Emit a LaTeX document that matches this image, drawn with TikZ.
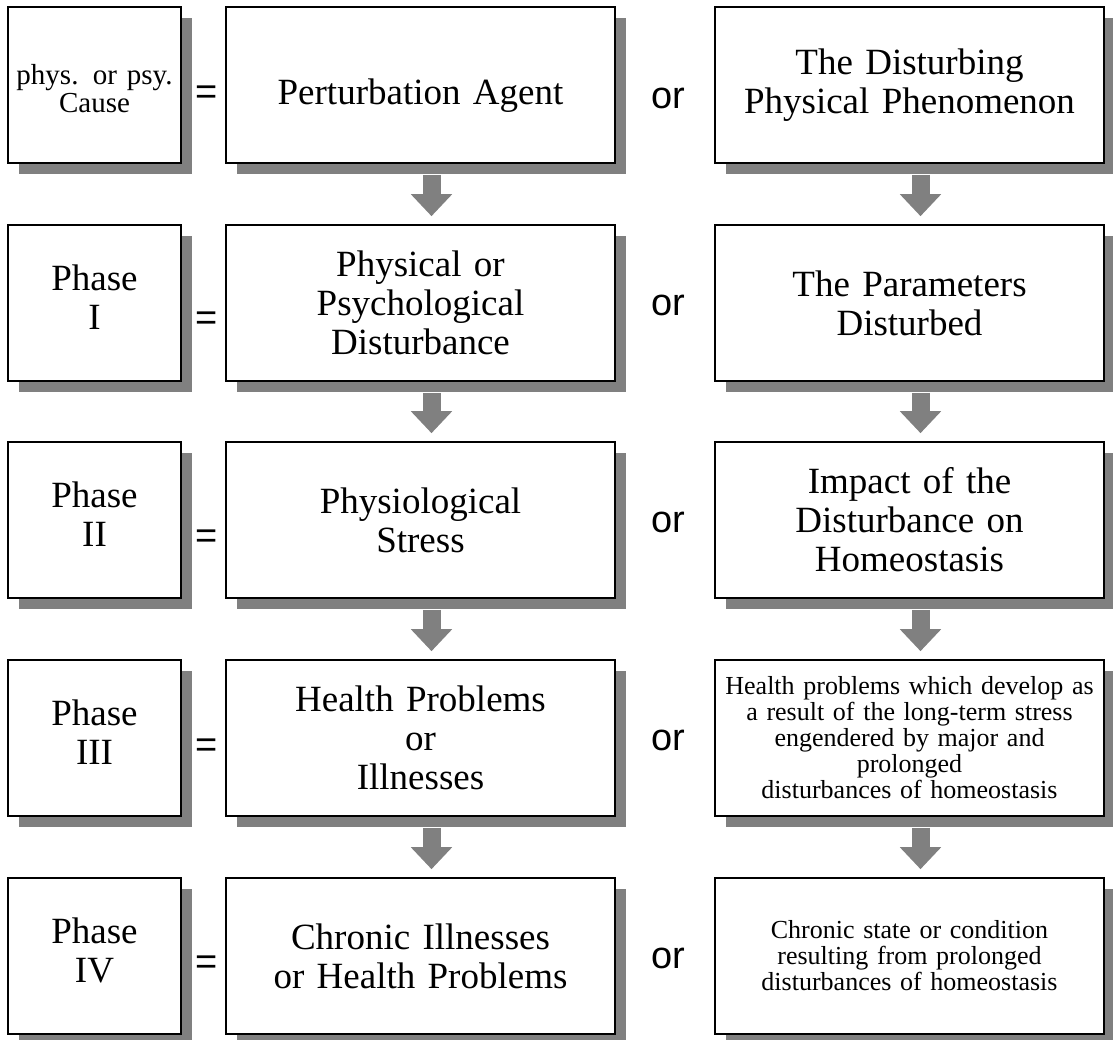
\documentclass[tikz,border=0pt]{standalone}
\usepackage{fontspec}
\setmainfont{Liberation Serif}
\newfontfamily\sansor{Liberation Sans}
\usetikzlibrary{shadows,arrows.meta}
\tikzset{
  box/.style={draw,line width=1.6pt,fill=white,inner sep=2pt,align=center,
    drop shadow={shadow xshift=11pt,shadow yshift=-11pt,fill=black!50,opacity=1},
    font=\fontsize{37}{39}\selectfont},
  phasebox/.style={box,minimum width=173pt,minimum height=156pt,text width=165pt},
  phaseup/.style={phasebox,execute at end node={\rule[-12pt]{0pt}{0pt}}},
  widebox/.style={box,minimum width=389pt,minimum height=156pt,text width=380pt},
  small/.style={font=\fontsize{26}{26}\selectfont},
  link/.style={line width=18pt,black!50,-{Triangle[width=40pt,length=22pt]}},
  sym/.style={font=\sansor\fontsize{38}{38}\selectfont,inner sep=0pt,anchor=base}
}
\begin{document}
\begin{tikzpicture}[x=1pt,y=-1pt]
  \useasboundingbox (0,0) rectangle (1113,1039);

  % left column
  \node[phasebox,font=\fontsize{29}{28}\selectfont] (ph0) at (94.5,85) {\rule{0pt}{27pt}phys. or psy.\\Cause};
  \node[phaseup] (ph1) at (94.5,303) {Phase\\I};
  \node[phaseup] (ph2) at (94.5,520) {Phase\\II};
  \node[phaseup] (ph3) at (94.5,738) {Phase\\III};
  \node[phaseup] (ph4) at (94.5,956) {Phase\\IV};

  % middle column
  \node[widebox] (ag0) at (420.5,85) {\rule{0pt}{46pt}Perturbation Agent};
  \node[widebox] (ag1) at (420.5,303) {Physical or\\Psychological\\Disturbance};
  \node[widebox] (ag2) at (420.5,520) {Physiological\\Stress};
  \node[widebox] (ag3) at (420.5,738) {Health Problems\\or\\Illnesses};
  \node[widebox] (ag4) at (420.5,956) {Chronic Illnesses\\or Health Problems};

  % right column
  \node[widebox] (ds0) at (909.5,85) {The Disturbing\\Physical Phenomenon};
  \node[widebox] (ds1) at (909.5,303) {The Parameters\\Disturbed};
  \node[widebox] (ds2) at (909.5,520) {Impact of the\\Disturbance on\\Homeostasis};
  \node[widebox,small] (ds3) at (909.5,738) {Health problems which develop as\\a result of the long-term stress\\engendered by major and\\prolonged\\disturbances of homeostasis};
  \node[widebox,small] (ds4) at (909.5,956) {Chronic state or condition\\resulting from prolonged\\disturbances of homeostasis};

  \foreach \i/\ye/\yo in {0/104/108,1/330/315,2/548/532,3/757/750,4/974/968} {
    \node[sym] (eq\i) at (207,\ye) {=};
    \node[sym] (or\i) at (668,\yo) {or};
  }

  \foreach \i/\j in {0/1,1/2,2/3,3/4} {
    \draw[link] ([xshift=11pt,yshift=-11pt]ag\i.south) -- ([xshift=11pt,yshift=8pt]ag\j.north);
    \draw[link] ([xshift=11pt,yshift=-11pt]ds\i.south) -- ([xshift=11pt,yshift=8pt]ds\j.north);
  }
\end{tikzpicture}
\end{document}
